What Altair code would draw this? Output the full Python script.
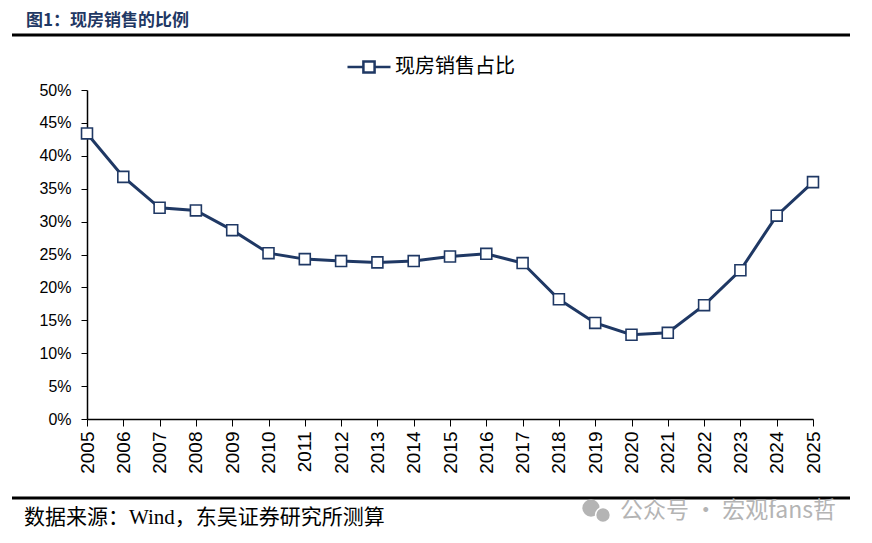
import altair as alt
import pandas as pd

# 现房销售占比 (%)
years = list(range(2005, 2026))
share = [43.4, 36.8, 32.1, 31.7, 28.7, 25.2, 24.3, 24.0, 23.8, 24.0, 24.7,
         25.1, 23.7, 18.2, 14.6, 12.8, 13.1, 17.3, 22.6, 30.9, 36.0]
series_name = "现房销售占比"
y_ticks = [0, 0.05, 0.10, 0.15, 0.20, 0.25, 0.30, 0.35, 0.40, 0.45, 0.50]

title_text = "图1：现房销售的比例"
source_text = "数据来源：Wind，东吴证券研究所测算"
watermark_text = "公众号 · 宏观fans哲"

NAVY = "#1F3864"
CJK = "Noto Sans CJK SC"
GREY = "#b4b4b4"

df = pd.DataFrame({
    "year": years,
    "value": [v / 100 for v in share],
    "series": [series_name] * len(years),
})

x_enc = alt.X(
    "year:Q",
    scale=alt.Scale(domain=[2005, 2025], nice=False, zero=False),
    axis=alt.Axis(
        title=None, values=years, format="d", labelAngle=-90, grid=False,
        labelFont="Liberation Sans", labelFontSize=19, labelColor="black",
        tickSize=7, tickColor="black", domainColor="black", domainWidth=1.5,
        labelPadding=5,
    ),
)
y_enc = alt.Y(
    "value:Q",
    scale=alt.Scale(domain=[0, 0.5], nice=False),
    axis=alt.Axis(
        title=None, values=y_ticks, format=".0%", grid=False,
        labelFont="Liberation Sans", labelFontSize=16, labelColor="black",
        tickSize=6, tickColor="black", domainColor="black", domainWidth=1.5,
        labelPadding=10,
    ),
)

line = alt.Chart(df).mark_line(color=NAVY, strokeWidth=3).encode(x=x_enc, y=y_enc)

points = alt.Chart(df).mark_point(
    shape="square", size=120, fill="white", filled=False, strokeWidth=1.6, opacity=1
).encode(
    x=x_enc,
    y=y_enc,
    stroke=alt.Stroke(
        "series:N",
        scale=alt.Scale(range=[NAVY]),
        legend=alt.Legend(
            title=None, orient="none", legendX=272, legendY=-33,
            symbolType="M-2.5,0H-0.65M0.65,0H2.5M-0.65,-0.65H0.65V0.65H-0.65Z",
            symbolSize=296, symbolFillColor="white", symbolStrokeWidth=2.5,
            labelFont=CJK, labelFontSize=20, labelColor="black", labelOffset=16,
        ),
    ),
)

one = pd.DataFrame({"a": [0]})

top_rule = alt.Chart(one).mark_rule(color="black", strokeWidth=3).encode(
    x=alt.value(-75), x2=alt.value(763), y=alt.value(-55)
)
bottom_rule = alt.Chart(one).mark_rule(color="black", strokeWidth=3).encode(
    x=alt.value(-75), x2=alt.value(763), y=alt.value(408)
)

title = alt.Chart(pd.DataFrame({"t": [title_text]})).mark_text(
    align="left", baseline="middle", font=CJK, fontSize=17, fontWeight="bold", color=NAVY
).encode(x=alt.value(-61), y=alt.value(-69), text="t:N")

source = alt.Chart(pd.DataFrame({"t": [source_text]})).mark_text(
    align="left", baseline="middle", font="Liberation Serif, Noto Sans CJK SC",
    fontSize=21, color="black"
).encode(x=alt.value(-63), y=alt.value(428), text="t:N")

# grey chat-bubble badge in front of the watermark
bubble_big = alt.Chart(one).mark_point(
    shape="circle", filled=True, color=GREY, opacity=1, size=300
).encode(x=alt.value(504), y=alt.value(418))
bubble_small = alt.Chart(one).mark_point(
    shape="circle", filled=True, color=GREY, opacity=1, size=220,
    stroke="white", strokeWidth=1.5
).encode(x=alt.value(516), y=alt.value(425))

watermark = alt.Chart(pd.DataFrame({"t": [watermark_text]})).mark_text(
    align="left", baseline="middle", font=CJK, fontSize=23, color=GREY
).encode(x=alt.value(533), y=alt.value(421), text="t:N")

chart = alt.layer(
    top_rule, bottom_rule, title, source, bubble_big, bubble_small, watermark,
    line, points
).properties(
    width=726,
    height=329,
    autosize=alt.AutoSizeParams(type="none"),
    padding={"left": 79, "top": 82, "right": 51, "bottom": 116},
).configure_view(stroke=None)

chart.save("out.html", embed_options={"renderer": "svg", "actions": False})
